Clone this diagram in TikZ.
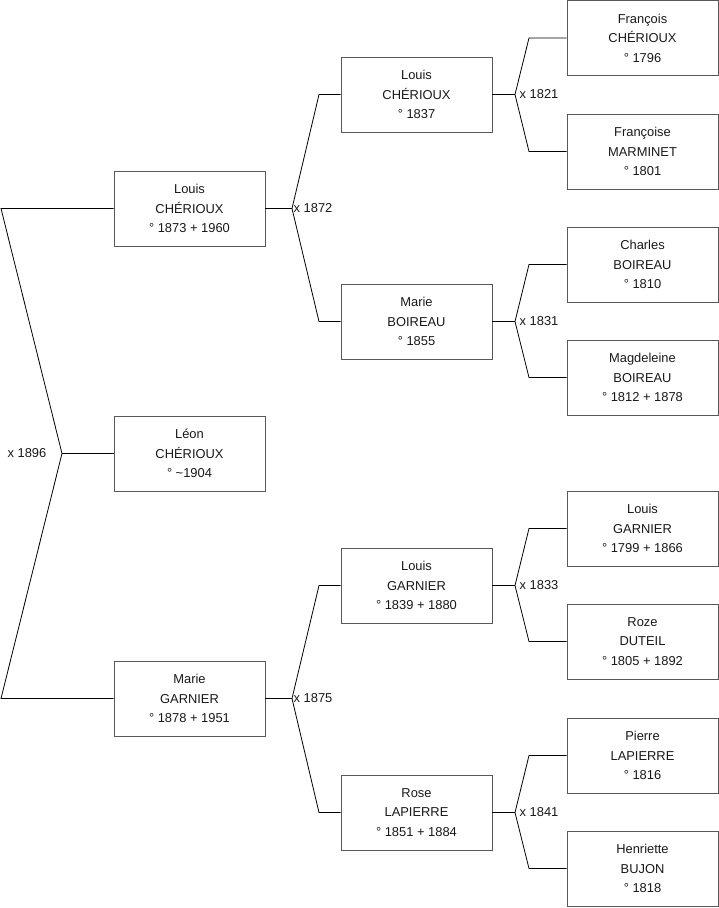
\documentclass[tikz,border=0pt]{standalone}
\usepackage{fontspec}
\setmainfont{Liberation Sans}
\usetikzlibrary{positioning}
\tikzstyle{person} = [
    rectangle,
    minimum width=151pt,
    minimum height=75pt,
    draw=black!65,
    line width=0.9pt,
    align=center,
    text=black!90,
    font=\fontsize{12.9}{19.6}\selectfont
]
\tikzstyle{link} = [black, line width=0.8pt]
\tikzstyle{wedding} = [font=\fontsize{12.9}{14}\selectfont, inner sep=1.5pt, text=black!90]

\begin{document}
\begin{tikzpicture}[x=1pt, y=-1pt]
\useasboundingbox (0,0) rectangle (719,908);

% generation 1
\node (louis1) [person] at (189.5,208.5) {Louis\\CHÉRIOUX\\° 1873 + 1960};
\node (leon) [person] at (189.5,453.5) {Léon\\CHÉRIOUX\\° \textasciitilde1904};
\node (marie1) [person] at (189.5,698.5) {Marie\\GARNIER\\° 1878 + 1951};

% generation 2
\node (louis2) [person] at (416.5,94.5) {Louis\\CHÉRIOUX\\° 1837};
\node (marie2) [person] at (416.5,321.5) {Marie\\BOIREAU\\° 1855};
\node (louis3) [person] at (416.5,585.5) {Louis\\GARNIER\\° 1839 + 1880};
\node (rose) [person] at (416.5,812.5) {Rose\\LAPIERRE\\° 1851 + 1884};

% generation 3
\node (francois) [person] at (642.5,38) {François\\CHÉRIOUX\\° 1796};
\node (francoise) [person] at (642.5,151.5) {Françoise\\MARMINET\\° 1801};
\node (charles) [person] at (642.5,264.5) {Charles\\BOIREAU\\° 1810};
\node (magdeleine) [person] at (642.5,377.5) {Magdeleine\\BOIREAU\\° 1812 + 1878};
\node (louis4) [person] at (642.5,528.5) {Louis\\GARNIER\\° 1799 + 1866};
\node (roze) [person] at (642.5,641.5) {Roze\\DUTEIL\\° 1805 + 1892};
\node (pierre) [person] at (642.5,755.5) {Pierre\\LAPIERRE\\° 1816};
\node (henriette) [person] at (642.5,868.5) {Henriette\\BUJON\\° 1818};

% junctions and elbows
\coordinate (j1896) at (62,453.5);
\coordinate (e1896a) at (1,208.5);
\coordinate (e1896b) at (1,698.5);

\coordinate (j1872) at (292,208.5);
\coordinate (e1872a) at (319,94.5);
\coordinate (e1872b) at (319,321.5);

\coordinate (j1875) at (292,698.5);
\coordinate (e1875a) at (319,585.5);
\coordinate (e1875b) at (319,812.5);

\coordinate (j1821) at (515,94.5);
\coordinate (e1821a) at (529,38);
\coordinate (e1821b) at (529,151.5);

\coordinate (j1831) at (515,321.5);
\coordinate (e1831a) at (529,264.5);
\coordinate (e1831b) at (529,377.5);

\coordinate (j1833) at (515,585.5);
\coordinate (e1833a) at (529,528.5);
\coordinate (e1833b) at (529,641.5);

\coordinate (j1841) at (515,812.5);
\coordinate (e1841a) at (529,755.5);
\coordinate (e1841b) at (529,868.5);

% connectors
\draw [link] (leon.west) -- (j1896);
\draw [link] (j1896) -- (e1896a) -- (louis1.west);
\draw [link] (j1896) -- (e1896b) -- (marie1.west);

\draw [link] (louis1.east) -- (j1872);
\draw [link] (j1872) -- (e1872a) -- (louis2.west);
\draw [link] (j1872) -- (e1872b) -- (marie2.west);

\draw [link] (marie1.east) -- (j1875);
\draw [link] (j1875) -- (e1875a) -- (louis3.west);
\draw [link] (j1875) -- (e1875b) -- (rose.west);

\draw [link] (louis2.east) -- (j1821);
\draw [link] (j1821) -- (e1821a) -- (francois.west);
\draw [link] (j1821) -- (e1821b) -- (francoise.west);

\draw [link] (marie2.east) -- (j1831);
\draw [link] (j1831) -- (e1831a) -- (charles.west);
\draw [link] (j1831) -- (e1831b) -- (magdeleine.west);

\draw [link] (louis3.east) -- (j1833);
\draw [link] (j1833) -- (e1833a) -- (louis4.west);
\draw [link] (j1833) -- (e1833b) -- (roze.west);

\draw [link] (rose.east) -- (j1841);
\draw [link] (j1841) -- (e1841a) -- (pierre.west);
\draw [link] (j1841) -- (e1841b) -- (henriette.west);

% marriage years
\node (m1896) [wedding, left=14pt of j1896] {x 1896};
\node (m1872) [wedding, right=0pt of j1872] {x 1872};
\node (m1875) [wedding, right=0pt of j1875] {x 1875};
\node (m1821) [wedding, right=3pt of j1821] {x 1821};
\node (m1831) [wedding, right=3pt of j1831] {x 1831};
\node (m1833) [wedding, right=3pt of j1833] {x 1833};
\node (m1841) [wedding, right=3pt of j1841] {x 1841};

\end{tikzpicture}
\end{document}
